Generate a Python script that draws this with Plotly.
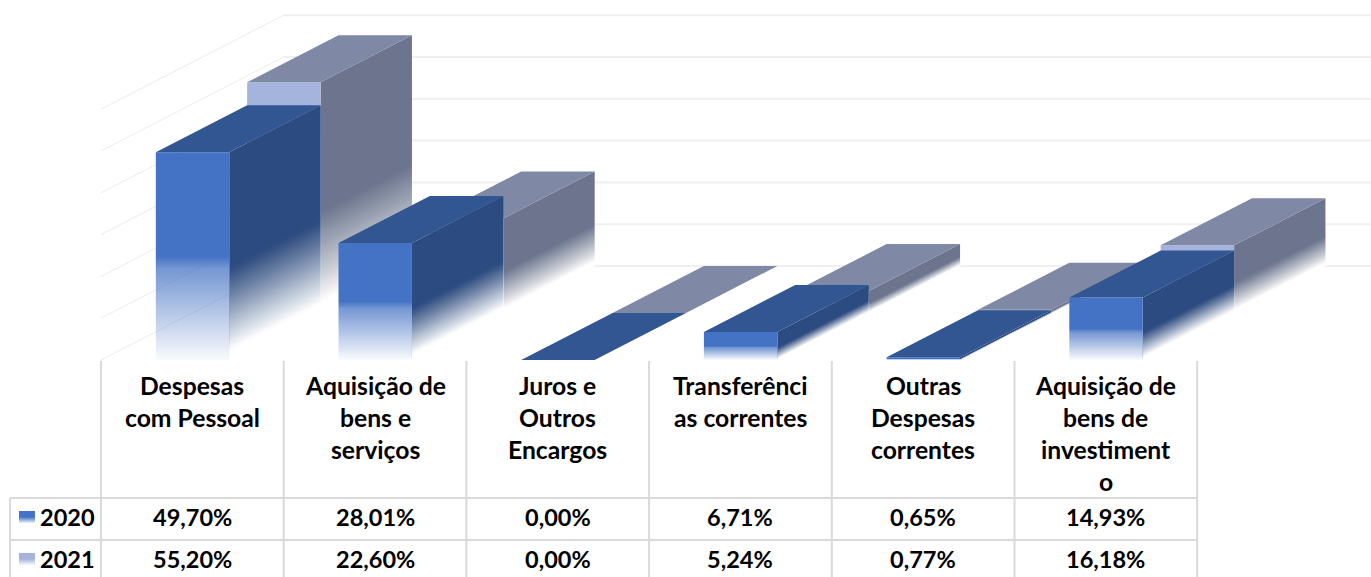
import plotly.graph_objects as go

# ---- data ----
categories = [
    ["Despesas", "com Pessoal"],
    ["Aquisição de", "bens e", "serviços"],
    ["Juros e", "Outros", "Encargos"],
    ["Transferênci", "as correntes"],
    ["Outras", "Despesas", "correntes"],
    ["Aquisição de", "bens de", "investiment", "o"],
]
years = ["2020", "2021"]
values_2020 = [49.70, 28.01, 0.00, 6.71, 0.65, 14.93]
values_2021 = [55.20, 22.60, 0.00, 5.24, 0.77, 16.18]
grid_levels = [0, 10, 20, 30, 40, 50, 60]

# ---- layout constants (pixels of the 1371x577 page) ----
W, H = 1371, 577
X0, CATW = 101.0, 182.7   # left of the plot floor, width of a category
Y0, PXPER = 360.0, 4.18   # front floor line, pixels per percent
xr = [(0 - X0) / CATW, (W - X0) / CATW]
yr = [(Y0 - H) / PXPER, Y0 / PXPER]


def ux(px):
    return (px - X0) / CATW


def uy(py):
    return (Y0 - py) / PXPER


DX = 0.5              # depth of one series along x
DY = 47.0 / PXPER     # depth of one series along y
BAR_L, BAR_W = 0.300, 0.402
WALL_X, WALL_Y = 2 * DX, 2 * DY

STYLE = {
    "2020": dict(front=(68, 114, 196), side="#2C4B81", top="#325692"),
    "2021": dict(front=(165, 180, 221), side="#6C748E", top="#7F88A5"),
}

fig = go.Figure()


def poly(xs, ys, **kw):
    fig.add_trace(go.Scatter(x=xs + xs[:1], y=ys + ys[:1], mode="lines", fill="toself",
                             line=dict(width=0), hoverinfo="skip", showlegend=False, **kw))


def hline(xs, ys, color, width, dash="solid"):
    fig.add_trace(go.Scatter(x=xs, y=ys, mode="lines", line=dict(color=color, width=width, dash=dash),
                             hoverinfo="skip", showlegend=False))


def front_gradient(rgb, v0, v1):
    r, g, b = rgb
    stops = [(0.0, 0.03), (0.44, 0.74), (0.50, 1.0), (1.0, 1.0)]
    return dict(type="vertical", start=v0, stop=v1,
                colorscale=[[s, f"rgba({r},{g},{b},{a})"] for s, a in stops])


# walls
for lv in grid_levels:
    hline([0, WALL_X], [lv, lv + WALL_Y], "#EFEAEA", 1)
    hline([WALL_X, ux(W)], [lv + WALL_Y, lv + WALL_Y], "#EFEFEF", 2)


FADE_STEPS = 30
FADE_FRAC = 0.45
FADE_FLOOR = 0.12   # part of the fade height that is already fully white
VEIL_PAD = 0.004    # veils reach a hair past the side so its edge cannot show


def bar(i, year, value):
    st = STYLE[year]
    k = years.index(year)
    xl = i + BAR_L + k * DX
    xh = xl + BAR_W
    b = k * DY
    t = b + value
    if value > 0:
        # right side; its bottom stays inside the part that ends up fully white
        low = value * FADE_FRAC * FADE_FLOOR * 0.5
        poly([xh, xh, xh + DX, xh + DX], [b + low, t, t + DY, b + low + DY], fillcolor=st["side"])
        prev = 0.0
        xe = xh + DX + VEIL_PAD
        ye = DY * (1 + VEIL_PAD / DX)
        for s in range(FADE_STEPS):
            level = 1 - s / FADE_STEPS            # top of veil as part of the fade height
            frac = max(0.0, (level - FADE_FLOOR) / (1 - FADE_FLOOR))
            target = min(max(1 - frac, 0.015), 1.0)
            a = 1 - (1 - target) / (1 - prev) if prev < 1 else 0
            a = max(a, 0)
            prev = target
            h = value * FADE_FRAC * level
            poly([xh, xh, xe, xe], [b, b + h, b + h + ye, b + ye],
                 fillcolor=f"rgba(255,255,255,{a:.4f})")
        # front with real transparency
        poly([xl, xh, xh, xl], [b, b, t, t], fillcolor="rgba(0,0,0,0)",
             fillgradient=front_gradient(st["front"], b, t))
    # top
    poly([xl, xh, xh + DX, xl + DX], [t, t, t + DY, t + DY], fillcolor=st["top"])


for i, v in enumerate(values_2021):
    bar(i, "2021", v)
for i, v in enumerate(values_2020):
    bar(i, "2020", v)

# ---- table ----
TABLE = "#D9D9D9"
col_edges = [i for i in range(len(categories) + 1)]
ROW_TOP, ROW_A, ROW_B = uy(361), uy(498), uy(540)
for c in col_edges:
    hline([c, c], [ROW_TOP, yr[0]], TABLE, 2)
xleft = ux(10)
hline([xleft, xleft], [ROW_A, yr[0]], TABLE, 2)
hline([xleft, len(categories)], [ROW_A, ROW_A], TABLE, 2)
hline([xleft, len(categories)], [ROW_B, ROW_B], TABLE, 2)

FONT_NUM = dict(family="Lato, Carlito, sans-serif", size=23.5, color="#000000")
FONT_CAT = dict(family="Lato, Carlito, sans-serif", size=24.7, color="#000000")


def text(x, y, s, font, **kw):
    fig.add_annotation(x=x, y=y, xref="x", yref="y", text=f"<b>{s}</b>", showarrow=False,
                       font=font, xanchor=kw.get("xanchor", "center"), yanchor="middle")


LINE_START, LINE_STEP = 385, 32
for i, lines in enumerate(categories):
    for j, ln in enumerate(lines):
        text(i + 0.5, uy(LINE_START + j * LINE_STEP), ln, FONT_CAT)

row_px = {"2020": 517, "2021": 559}
for yr_name, vals in (("2020", values_2020), ("2021", values_2021)):
    py = row_px[yr_name]
    text(ux(38), uy(py), yr_name, FONT_NUM, xanchor="left")
    for i, v in enumerate(vals):
        text(i + 0.5, uy(py), f"{v:.2f}".replace(".", ",") + "%", FONT_NUM)
    # legend key
    x1, x2 = ux(19), ux(35)
    v_top, v_bot = uy(py - 6), uy(py + 6)
    r, g, b = STYLE[yr_name]["front"]
    poly([x1, x2, x2, x1], [v_bot, v_bot, v_top, v_top], fillcolor="rgba(0,0,0,0)",
         fillgradient=dict(type="vertical", start=v_bot, stop=v_top,
                           colorscale=[[0, f"rgba({r},{g},{b},0.1)"], [0.5, f"rgba({r},{g},{b},1)"],
                                       [1, f"rgba({r},{g},{b},1)"]]))

fig.update_layout(
    width=W, height=H, margin=dict(l=0, r=0, t=0, b=0),
    paper_bgcolor="white", plot_bgcolor="white", showlegend=False,
    xaxis=dict(range=xr, visible=False, fixedrange=True),
    yaxis=dict(range=yr, visible=False, fixedrange=True),
)
fig.write_html("out.html", config={"displayModeBar": False},
               post_script="document.body.style.margin='0';document.body.style.overflow='hidden';")
